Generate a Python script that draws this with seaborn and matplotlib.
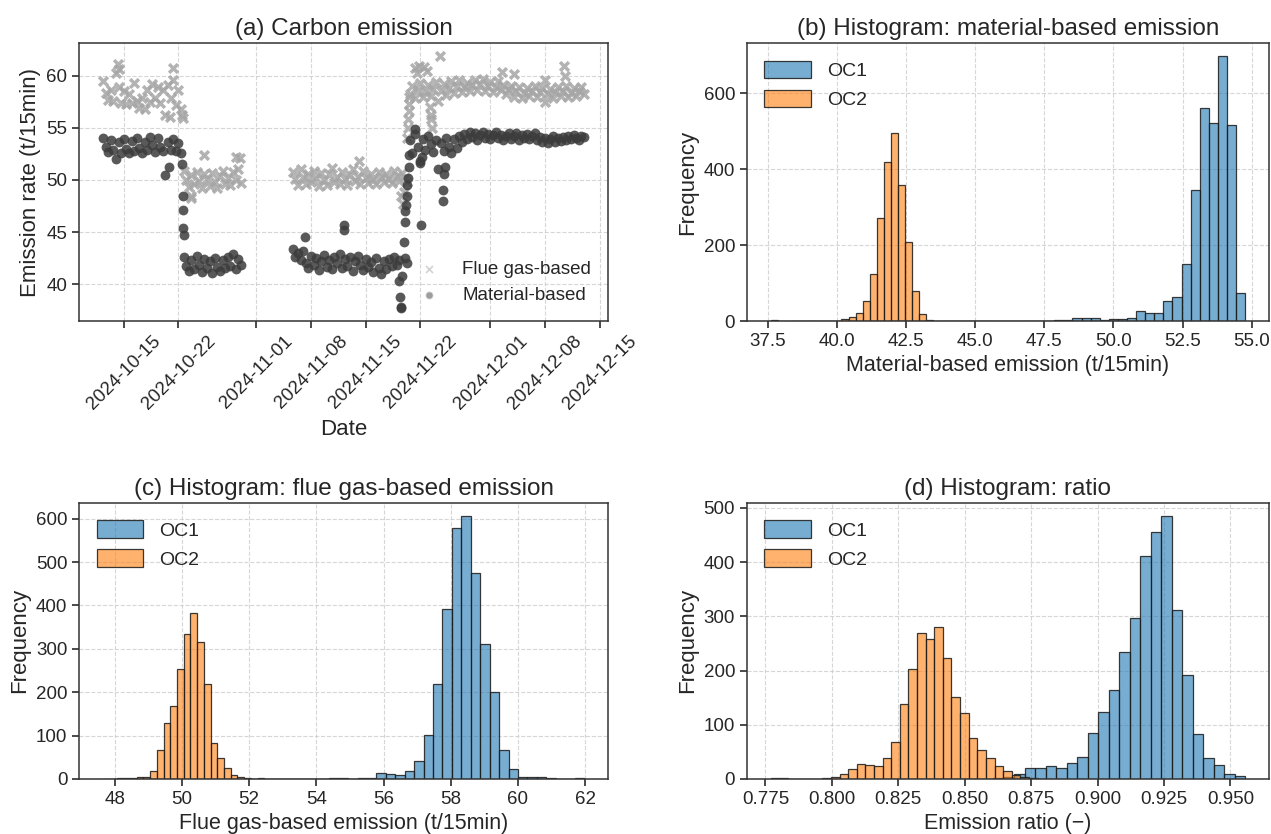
import numpy as np
import pandas as pd
import seaborn as sns
import matplotlib.pyplot as plt
import matplotlib.dates as mdates
from matplotlib.colors import to_rgba

# ---- (a) time series, readings every 8 h per operating segment ----
seg_starts = ["2024-10-12 08:00", "2024-10-22 16:00", "2024-11-05 16:00", "2024-11-20 16:00"]

flue_seg1 = [59.5, 58.3, 57.7, 58.6, 57.6, 60.2, 58.9, 57.4, 58.5, 57.3,
             58.2, 57.4, 59.3, 57.6, 56.9, 57.8, 56.8, 58.6, 57.5, 59.2,
             57.8, 58.9, 57.4, 58.6, 56.2, 59.1, 57.8, 59.6, 57.2, 58.6, 56.8]
flue_seg2 = [50.9, 50.0, 49.3, 50.5, 49.6, 50.8, 49.9, 49.2, 50.6, 50.1,
             49.4, 50.7, 49.8, 49.2, 50.4, 50.9, 49.6, 50.2, 49.5, 50.8,
             50.0, 51.0, 49.7]
flue_seg3 = [50.8, 50.1, 49.5, 51.0, 50.3, 49.6, 50.6, 49.8, 50.9, 50.2,
             49.4, 50.7, 50.0, 49.5, 50.6, 51.1, 49.8, 50.3, 49.6, 50.8,
             50.1, 49.5, 50.5, 51.0, 49.9, 50.3, 49.6, 50.9, 50.2, 49.7,
             50.6, 50.0, 49.6, 50.8, 50.3, 49.8, 50.6, 50.1, 49.7, 50.9,
             50.4, 49.9, 50.7, 50.2, 49.8]
flue_seg4 = [58.2, 59.0, 57.8, 58.6, 59.3, 57.9, 58.4, 59.1, 58.0, 58.7,
             59.4, 57.6, 58.5, 59.2, 58.1, 58.8, 59.5, 58.3, 59.0, 59.6,
             58.4, 58.9, 59.3, 58.5, 59.1, 59.6, 58.6, 59.2, 59.7, 58.5,
             59.0, 59.4, 58.4, 58.9, 59.5, 58.6, 59.1, 58.2, 58.7, 59.0,
             57.9, 58.5, 58.9, 57.8, 58.3, 58.8, 58.0, 58.5, 59.0, 57.9,
             58.4, 58.8, 57.5, 58.2, 58.7, 57.8, 58.4, 58.9, 58.0, 58.5,
             59.0, 57.9, 58.3, 58.8, 58.0, 58.5, 58.9, 58.2]

mat_seg1 = [54.0, 53.2, 52.7, 53.8, 52.9, 52.0, 53.6, 52.6, 53.9, 53.0,
            52.6, 53.7, 52.8, 54.0, 53.1, 52.6, 53.6, 52.9, 54.1, 53.3,
            52.7, 54.0, 53.2, 52.8, 50.5, 53.6, 52.9, 53.9, 52.8, 53.5, 52.6]
mat_seg2 = [42.6, 41.8, 41.3, 42.3, 41.5, 42.7, 41.9, 41.2, 42.4, 41.6,
            42.2, 41.1, 42.5, 41.7, 41.3, 42.3, 41.6, 42.6, 41.8, 42.9,
            41.5, 42.4, 41.9]
mat_seg3 = [43.4, 42.6, 43.0, 42.3, 43.2, 42.0, 41.6, 42.7, 41.9, 42.5,
            41.4, 42.2, 42.8, 41.7, 42.3, 41.5, 42.6, 42.0, 42.9, 41.6,
            42.4, 41.8, 42.6, 41.3, 42.2, 42.7, 41.9, 41.4, 42.4, 41.7,
            42.1, 41.2, 42.5, 41.6, 41.0, 42.2, 41.5, 42.4, 41.8, 42.6,
            41.9, 42.3, 40.8, 42.5, 42.0]
mat_seg4 = [53.8, 52.6, 54.4, 53.2, 51.6, 53.9, 52.9, 54.2, 53.4, 52.7,
            53.8, 51.0, 53.5, 52.8, 54.0, 53.2, 52.6, 53.9, 53.1, 54.2,
            53.6, 54.4, 53.9, 54.6, 54.1, 54.5, 53.8, 54.3, 54.6, 54.0,
            54.4, 53.9, 54.3, 54.6, 54.0, 54.3, 53.8, 54.2, 54.5, 53.9,
            54.2, 54.5, 53.8, 54.3, 54.0, 54.4, 53.9, 54.2, 54.5, 53.8,
            54.1, 53.6, 54.0, 53.5, 53.9, 54.2, 53.6, 54.0, 53.7, 54.1,
            53.8, 54.2, 53.9, 54.3, 54.0, 53.8, 54.2, 54.1]

# isolated readings (spikes, dips, transitions)
flue_extra_t = ["2024-10-14 06:00", "2024-10-14 10:00", "2024-10-20 22:00", "2024-10-21 08:00",
                "2024-10-22 11:00", "2024-10-22 13:00", "2024-10-23 14:00", "2024-10-23 16:00",
                "2024-10-25 07:00", "2024-10-29 10:00", "2024-10-29 20:00", "2024-11-14 05:00",
                "2024-11-19 14:00", "2024-11-19 19:00", "2024-11-19 23:00", "2024-11-20 07:00",
                "2024-11-20 09:00", "2024-11-20 11:00", "2024-11-20 12:00", "2024-11-20 13:00",
                "2024-11-20 14:00", "2024-11-21 07:00", "2024-11-21 14:00", "2024-11-21 19:00",
                "2024-11-22 12:00", "2024-11-22 22:00", "2024-11-23 07:00", "2024-11-23 08:00",
                "2024-11-23 09:00", "2024-11-23 11:00", "2024-11-24 14:00", "2024-12-02 12:00",
                "2024-12-04 00:00", "2024-12-08 00:00", "2024-12-10 10:00", "2024-12-10 14:00"]
flue_extra_v = [61.1, 60.6, 56.0, 60.7,
                56.2, 55.9, 48.5, 48.3,
                52.4, 52.2, 52.1, 51.8,
                48.5, 47.7, 48.8, 54.0,
                55.0, 55.8, 56.6, 57.3,
                57.9, 60.7, 60.2, 60.9,
                60.8, 60.4, 57.0, 56.2,
                55.8, 55.0, 61.9, 60.3,
                60.1, 59.6, 60.9, 60.0]

mat_extra_t = ["2024-10-20 20:00", "2024-10-22 12:00", "2024-10-22 13:00", "2024-10-22 14:00",
               "2024-10-22 15:00", "2024-10-22 15:30", "2024-11-07 05:00", "2024-11-12 04:00",
               "2024-11-12 06:00", "2024-11-19 08:00", "2024-11-19 10:00", "2024-11-19 12:00",
               "2024-11-19 13:00", "2024-11-19 22:00", "2024-11-20 00:00", "2024-11-20 02:00",
               "2024-11-20 04:00", "2024-11-20 06:00", "2024-11-20 08:00", "2024-11-20 10:00",
               "2024-11-20 12:00", "2024-11-20 14:00", "2024-11-21 07:00", "2024-11-22 00:00",
               "2024-11-22 03:00", "2024-11-22 05:00", "2024-11-24 22:00", "2024-11-24 23:00",
               "2024-11-25 01:00", "2024-11-25 03:00"]
mat_extra_v = [51.2, 51.5, 48.5, 47.1,
               45.4, 44.7, 44.5, 45.7,
               45.2, 40.3, 38.8, 37.8,
               37.7, 44.1, 46.0, 47.0,
               47.6, 48.5, 49.5, 50.2,
               51.2, 52.4, 54.9, 51.8,
               45.7, 52.2, 49.0, 48.0,
               50.6, 51.2]

date_ticks = ["2024-10-15", "2024-10-22", "2024-11-01", "2024-11-08", "2024-11-15",
              "2024-11-22", "2024-12-01", "2024-12-08", "2024-12-15"]

# ---- histograms: first bin edge, bin width, counts ----
mat_oc1_start, mat_oc1_width = 38.32, 0.329
mat_oc1_counts = [1, 0, 0, 0, 0, 0, 0, 0, 0, 0,
                  0, 0, 0, 0, 0, 0, 0, 0, 0, 1,
                  0, 1, 0, 0, 0, 0, 1, 0, 1, 2,
                  3, 8, 8, 7, 2, 5, 6, 9, 26, 21,
                  21, 53, 63, 149, 345, 561, 522, 698, 517, 74]
mat_oc2_start, mat_oc2_width = 37.6, 0.256
mat_oc2_counts = [2, 0, 0, 0, 1, 0, 0, 0, 0, 0,
                  5, 10, 20, 52, 123, 272, 419, 495, 358, 208,
                  80, 18, 3, 1, 0, 1, 0, 1, 1, 0,
                  1, 1, 0, 1, 0, 1, 0, 1, 0, 1,
                  0, 1, 0, 1, 0, 0, 0, 1, 0, 1]

flue_oc1_start, flue_oc1_width = 47.92, 0.281
flue_oc1_counts = [0, 0, 0, 1, 0, 0, 0, 0, 0, 0,
                   1, 0, 0, 0, 0, 0, 0, 0, 0, 0,
                   1, 1, 1, 2, 2, 1, 2, 3, 13, 11,
                   9, 19, 42, 101, 218, 392, 579, 606, 475, 311,
                   201, 67, 23, 5, 5, 5, 2, 1, 1, 2]
flue_oc2_start, flue_oc2_width = 47.65, 0.2
flue_oc2_counts = [1, 0, 2, 2, 3, 4, 5, 19, 67, 128,
                   168, 254, 334, 382, 316, 220, 82, 48, 25, 10,
                   5, 2, 1, 2, 1, 1, 1, 0, 1, 0,
                   1, 0, 1, 0, 0, 1, 0, 1, 0, 0,
                   1, 0, 0, 1, 0, 1, 0, 0, 1, 1]

ratio_oc1_start, ratio_oc1_width = 0.8608, 0.00395
ratio_oc1_counts = [2, 4, 10, 20, 20, 24, 20, 30, 41, 84,
                    124, 164, 234, 297, 412, 456, 485, 311, 192, 83,
                    39, 26, 9, 5]
ratio_oc2_start, ratio_oc2_width = 0.777, 0.00324
ratio_oc2_counts = [1, 1, 0, 0, 0, 0, 2, 3, 10, 18,
                    27, 26, 24, 38, 68, 138, 202, 269, 259, 280,
                    224, 151, 121, 75, 53, 38, 24, 14, 7, 3, 1]

C_OC1 = "#1f77b4"
C_OC2 = "#ff7f0e"


def build_series(segments, extra_t, extra_v):
    parts = []
    for start, vals in zip(seg_starts, segments):
        t = pd.date_range(start, periods=len(vals), freq="8h")
        parts.append(pd.DataFrame({"time": t, "value": vals}))
    parts.append(pd.DataFrame({"time": pd.to_datetime(extra_t), "value": extra_v}))
    return pd.concat(parts, ignore_index=True).sort_values("time")


flue_df = build_series([flue_seg1, flue_seg2, flue_seg3, flue_seg4], flue_extra_t, flue_extra_v)
mat_df = build_series([mat_seg1, mat_seg2, mat_seg3, mat_seg4], mat_extra_t, mat_extra_v)

sns.set_theme(style="ticks")
plt.rcParams["font.family"] = ["Liberation Sans", "DejaVu Sans"]
plt.rcParams["axes.edgecolor"] = "#333333"
plt.rcParams["axes.linewidth"] = 1.1

fig = plt.figure(figsize=(12.71, 8.34), dpi=100)
ax_a = fig.add_axes([0.0622, 0.6151, 0.4162, 0.3333])
ax_b = fig.add_axes([0.5877, 0.6151, 0.4107, 0.3333])
ax_c = fig.add_axes([0.0622, 0.0660, 0.4162, 0.3310])
ax_d = fig.add_axes([0.5877, 0.0660, 0.4107, 0.3310])


def style_axes(ax):
    ax.grid(True, linestyle="--", color="#cccccc", linewidth=0.8, alpha=0.8)
    ax.set_axisbelow(True)
    for sp in ax.spines.values():
        sp.set_visible(True)
    ax.tick_params(labelsize=13.5, length=5, color="#333333")


# (a) scatter
sns.scatterplot(data=flue_df, x="time", y="value", ax=ax_a, marker="x", color="#a6a6a6",
                s=40, linewidth=2.5, alpha=0.85, label="Flue gas-based")
sns.scatterplot(data=mat_df, x="time", y="value", ax=ax_a, marker="o", color="#3c3c3c",
                s=50, linewidth=0, alpha=0.85, label="Material-based")
ax_a.set_xticks(pd.to_datetime(date_ticks))
ax_a.xaxis.set_major_formatter(mdates.DateFormatter("%Y-%m-%d"))
ax_a.tick_params(axis="x", rotation=45)
ax_a.set_xlabel("Date", fontsize=16)
ax_a.set_ylabel("Emission rate (t/15min)", fontsize=16)
ax_a.set_title("(a) Carbon emission", fontsize=17.5)
leg = ax_a.legend(loc="lower right", frameon=False, fontsize=13.5, markerscale=0.8)
for h in leg.legend_handles:
    h.set_alpha(0.5)
    h.set_linewidth(1.2)
style_axes(ax_a)


def hist_panel(ax, series, title, xlabel):
    for label, start, width, counts, color in series:
        edges = start + width * np.arange(len(counts) + 1)
        hist_df = pd.DataFrame({"center": (edges[:-1] + edges[1:]) / 2,
                                "count": np.asarray(counts, dtype=float)})
        n_before = len(ax.patches)
        sns.histplot(data=hist_df, x="center", weights="count", bins=list(edges), ax=ax,
                     color=color, alpha=0.6, edgecolor="black", linewidth=0.9, label=label)
        for p in ax.patches[n_before:]:
            p.set_alpha(None)
            p.set_facecolor(to_rgba(color, 0.6))
            p.set_edgecolor((0.1, 0.1, 0.1, 0.85))
    ax.set_title(title, fontsize=17.5)
    ax.set_xlabel(xlabel, fontsize=15.5)
    ax.set_ylabel("Frequency", fontsize=16)
    ax.legend(loc="upper left", frameon=False, fontsize=14, handlelength=2.4,
              handleheight=1.0)
    style_axes(ax)


hist_panel(ax_b, [("OC1", mat_oc1_start, mat_oc1_width, mat_oc1_counts, C_OC1),
                  ("OC2", mat_oc2_start, mat_oc2_width, mat_oc2_counts, C_OC2)],
           "(b) Histogram: material-based emission", "Material-based emission (t/15min)")
hist_panel(ax_c, [("OC1", flue_oc1_start, flue_oc1_width, flue_oc1_counts, C_OC1),
                  ("OC2", flue_oc2_start, flue_oc2_width, flue_oc2_counts, C_OC2)],
           "(c) Histogram: flue gas-based emission", "Flue gas-based emission (t/15min)")
hist_panel(ax_d, [("OC1", ratio_oc1_start, ratio_oc1_width, ratio_oc1_counts, C_OC1),
                  ("OC2", ratio_oc2_start, ratio_oc2_width, ratio_oc2_counts, C_OC2)],
           "(d) Histogram: ratio", "Emission ratio (\u2212)")

ax_b.set_xticks([37.5, 40.0, 42.5, 45.0, 47.5, 50.0, 52.5, 55.0])
ax_b.set_xticklabels(["37.5", "40.0", "42.5", "45.0", "47.5", "50.0", "52.5", "55.0"])
ax_c.set_xticks([48, 50, 52, 54, 56, 58, 60, 62])
ax_d.set_xticks([0.775, 0.800, 0.825, 0.850, 0.875, 0.900, 0.925, 0.950])
ax_d.set_xticklabels(["0.775", "0.800", "0.825", "0.850", "0.875", "0.900", "0.925", "0.950"])

fig.savefig("out.png", dpi=100)
